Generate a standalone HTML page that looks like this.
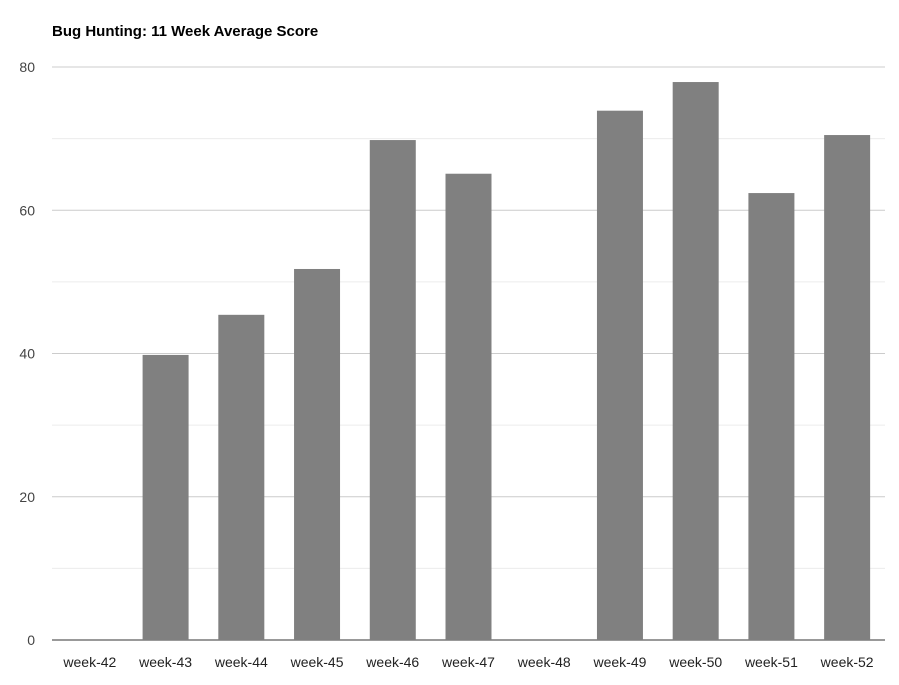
<!DOCTYPE html>
<html><head><meta charset="utf-8"><style>
body{margin:0;background:#fff;}
svg{display:block;font-family:"Liberation Sans",Arial,sans-serif;}
</style></head><body>
<svg id="chart" width="899" height="685">
<text x="52" y="36" font-size="15" font-weight="bold" fill="#000">Bug Hunting: 11 Week Average Score</text>
<g id="grid"></g><g id="bars"></g><g id="xlabels"></g><g id="ylabels"></g>
</svg>
<script>
const categories=["week-42","week-43","week-44","week-45","week-46","week-47","week-48","week-49","week-50","week-51","week-52"];
const scores=[0,39.8,45.4,51.8,69.8,65.1,0,73.9,77.9,62.4,70.5];
const yTicks=[0,20,40,60,80];
const minorTicks=[10,30,50,70];
const NS="http://www.w3.org/2000/svg";
const L=52,R=885,T=67,B=640,yMax=80;
const y=v=>B-(v/yMax)*(B-T);
const band=(R-L)/categories.length;
const x=i=>L+band*i+band/2;
const bw=46;
function mk(tag,attrs,parent){const e=document.createElementNS(NS,tag);for(const k in attrs)e.setAttribute(k,attrs[k]);document.getElementById(parent).appendChild(e);return e;}
minorTicks.forEach(t=>{const l=mk('line',{x1:L,x2:R,y1:y(t),y2:y(t),stroke:'#ececec','stroke-width':1},'grid');

});
yTicks.forEach(t=>{const l=mk('line',{x1:L,x2:R,y1:y(t),y2:y(t),stroke:t===0?'#333':'#ccc','stroke-width':1},'grid');


const tx=mk('text',{x:35,y:y(t)+5,'text-anchor':'end','font-size':14,fill:'#444'},'ylabels');
tx.textContent=t;

});
categories.forEach((c,i)=>{
const v=scores[i];
const r=mk('rect',{x:x(i)-bw/2,y:y(v),width:bw,height:B-y(v),fill:'#808080'},'bars');


const tx=mk('text',{x:x(i),y:667,'text-anchor':'middle','font-size':14,fill:'#222'},'xlabels');
tx.textContent=c;

});
</script>
</body></html>
